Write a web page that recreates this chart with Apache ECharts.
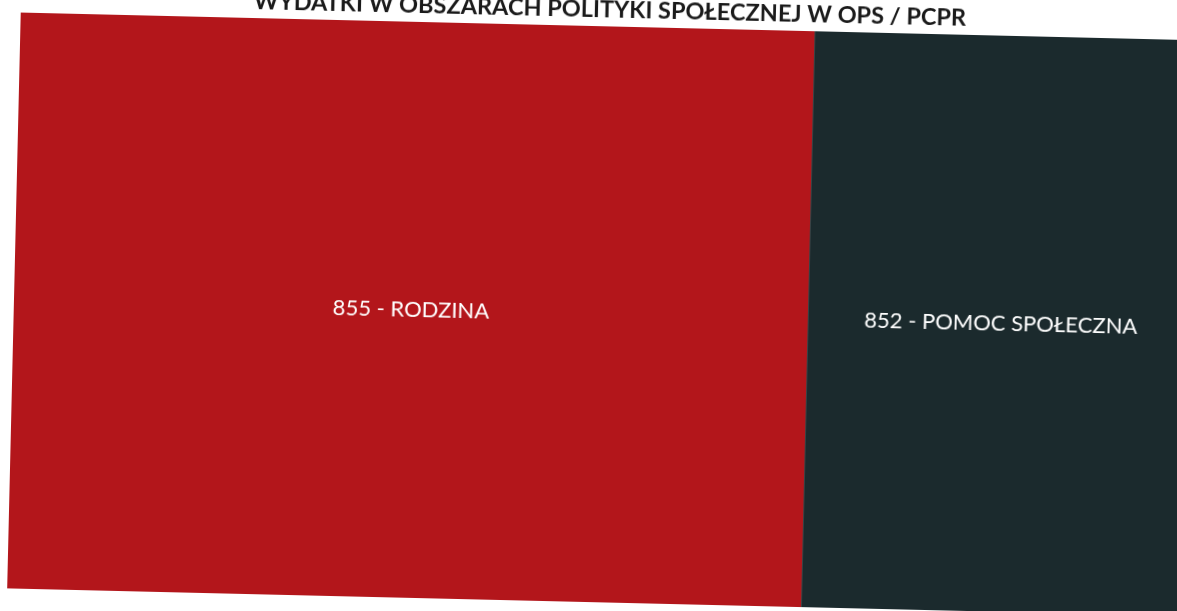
<!DOCTYPE html>
<html>
<head>
<meta charset="utf-8">
<script src="https://cdn.jsdelivr.net/npm/echarts@6/dist/echarts.min.js"></script>
<style>
  html, body { margin: 0; padding: 0; background: #ffffff; overflow: hidden; width: 1177px; height: 611px; }
  #chart { width: 1220px; height: 640px; transform: rotate(1.35deg); transform-origin: 588.5px 305.5px; }
</style>
</head>
<body>
<div id="chart"></div>
<script>
// Spending areas (relative share of total)
const chartTitle = 'WYDATKI W OBSZARACH POLITYKI SPOŁECZNEJ W OPS / PCPR';
const areaNames = ['855 - RODZINA', '852 - POMOC SPOŁECZNA'];
const areaValues = [67.3, 32.7];
const areaColors = ['#b3161b', '#1b2a2d'];

const chart = echarts.init(document.getElementById('chart'), null, { renderer: 'canvas' });

const treeData = areaNames.map((name, i) => ({
  name: name,
  value: areaValues[i],
  itemStyle: { color: areaColors[i] }
}));

chart.setOption({
  animation: false,
  backgroundColor: '#ffffff',
  title: {
    text: chartTitle,
    left: 598,
    textAlign: 'center',
    top: -8,
    textStyle: {
      fontFamily: 'Lato',
      fontWeight: 'bold',
      fontSize: 23.5,
      color: '#1a1a1a'
    }
  },
  series: [{
    type: 'treemap',
    left: 14,
    top: 26,
    width: 1180,
    height: 576,
    roam: false,
    nodeClick: false,
    breadcrumb: { show: false },
    sort: 'desc',
    itemStyle: { borderWidth: 0, gapWidth: 0 },
    label: {
      show: true,
      position: 'inside',
      align: 'center',
      verticalAlign: 'middle',
      formatter: '{b}',
      color: '#ffffff',
      fontFamily: 'Lato',
      fontSize: 22
    },
    upperLabel: { show: false },
    data: treeData
  }]
});
</script>
</body>
</html>
